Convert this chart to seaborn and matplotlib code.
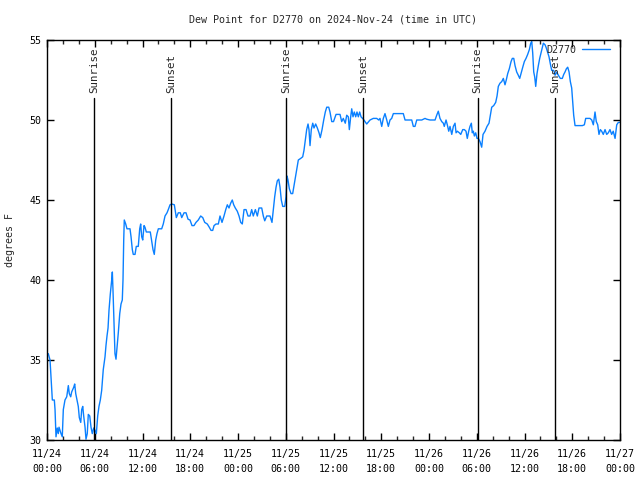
import matplotlib
matplotlib.use("Agg")
import matplotlib.pyplot as plt
from matplotlib.ticker import MultipleLocator
import seaborn as sns
import pandas as pd

# hours since 2024-11-24 00:00 UTC
hours = [0.16, 0.38, 0.50, 0.67, 0.92, 1.01, 1.13, 1.29, 1.42, 1.51, 1.76, 1.92, 2.05, 2.26, 2.48,
         2.68, 2.80, 2.98, 3.10, 3.36, 3.48, 3.61, 3.77, 3.93, 4.06, 4.24, 4.36, 4.49, 4.61, 4.78,
         4.90, 5.06, 5.19, 5.37, 5.53, 5.69, 5.87, 6.03, 6.20, 6.37, 6.53, 6.70, 6.87, 7.07, 7.29,
         7.41, 7.54, 7.67, 7.79, 7.95, 8.13, 8.21, 8.29, 8.38, 8.46, 8.54, 8.67, 8.80, 8.96, 9.14,
         9.30, 9.46, 9.55, 9.64, 9.71, 9.89, 10.05, 10.43, 10.56, 10.72, 10.84, 11.06, 11.22, 11.47,
         11.65, 11.77, 11.90, 12.03, 12.19, 12.31, 12.48, 12.98, 13.16, 13.32, 13.48, 13.66, 13.82,
         13.99, 14.41, 14.61, 14.83, 15.08, 15.24, 15.46, 15.67, 16.00, 16.25, 16.50, 16.75, 16.93,
         17.22, 17.47, 17.72, 17.97, 18.22, 18.47, 18.72, 19.01, 19.31, 19.57, 19.82, 20.14, 20.39,
         20.61, 20.82, 20.99, 21.24, 21.53, 21.74, 21.99, 22.24, 22.46, 22.66, 22.87, 23.08, 23.28,
         23.46, 23.66, 23.91, 24.13, 24.34, 24.54, 24.76, 25.01, 25.26, 25.51, 25.72, 25.92, 26.18,
         26.43, 26.64, 26.98, 27.18, 27.36, 27.61, 28.02, 28.27, 28.44, 28.61, 28.78, 28.94, 29.12,
         29.28, 29.44, 29.62, 29.87, 30.03, 30.16, 30.28, 30.45, 30.66, 30.87, 31.04, 31.20, 31.38,
         31.58, 31.88, 32.13, 32.29, 32.46, 32.63, 32.80, 32.92, 33.05, 33.21, 33.39, 33.55, 33.76,
         33.97, 34.18, 34.34, 34.56, 34.77, 34.97, 35.15, 35.40, 35.56, 35.78, 36.00, 36.32, 36.82,
         37.03, 37.23, 37.48, 37.66, 37.86, 37.99, 38.16, 38.29, 38.45, 38.61, 38.79, 38.95, 39.12,
         39.29, 39.46, 39.75, 40.17, 40.59, 41.00, 41.43, 41.68, 41.84, 42.06, 42.26, 42.47, 42.69,
         42.89, 43.10, 43.31, 43.52, 44.77, 44.99, 45.83, 46.03, 46.24, 46.46, 47.09, 47.50, 47.71,
         48.13, 48.76, 48.97, 49.17, 49.38, 49.60, 49.80, 49.92, 50.14, 50.30, 50.48, 50.64, 50.86,
         51.06, 51.27, 51.40, 51.56, 51.81, 51.99, 52.24, 52.44, 52.65, 52.81, 52.99, 53.15, 53.32,
         53.44, 53.57, 53.70, 53.87, 54.03, 54.20, 54.41, 54.62, 54.79, 55.04, 55.29, 55.54, 55.71,
         55.88, 56.13, 56.38, 56.55, 56.71, 56.92, 57.14, 57.34, 57.55, 57.71, 57.89, 58.09, 58.31,
         58.47, 58.65, 58.81, 59.02, 59.22, 59.40, 59.56, 59.78, 59.98, 60.19, 60.40, 60.61, 60.78,
         60.91, 61.03, 61.16, 61.28, 61.41, 61.57, 61.74, 61.91, 62.08, 62.24, 62.37, 62.58, 62.74,
         62.92, 63.08, 63.25, 63.42, 63.67, 63.84, 64.05, 64.25, 64.50, 64.75, 64.93, 65.09, 65.26,
         65.43, 65.60, 65.76, 65.93, 66.06, 66.18, 66.35, 67.27, 67.52, 67.69, 68.23, 68.45, 68.65,
         68.86, 69.02, 69.20, 69.36, 69.53, 69.70, 69.90, 70.12, 70.33, 70.53, 70.74, 70.95, 71.15,
         71.38, 71.59, 71.79, 72.00]

dew_point = [35.4, 35.0, 34.0, 32.5, 32.5, 31.9, 30.2, 30.75, 30.4, 30.8, 30.4, 30.2, 31.9, 32.5, 32.7,
             33.4, 32.9, 32.7, 33.0, 33.3, 33.5, 32.9, 32.5, 32.1, 31.4, 31.1, 31.9, 32.1, 31.5, 30.8,
             30.05, 30.4, 31.6, 31.5, 30.8, 30.4, 30.75, 30.6, 30.4, 31.5, 32.1, 32.5, 33.1, 34.4, 35.2,
             35.9, 36.5, 37.0, 38.1, 39.1, 40.0, 40.5, 39.4, 37.9, 36.7, 35.4, 35.05, 35.8, 36.7, 37.9,
             38.5, 38.75, 40.0, 42.5, 43.75, 43.5, 43.2, 43.2, 42.7, 41.9, 41.6, 41.6, 42.1, 42.1,
             43.2, 43.5, 42.7, 42.5, 43.4, 43.3, 43.0, 43.0, 42.4, 41.9, 41.6, 42.5, 42.9,
             43.2, 43.2, 43.5, 44.0, 44.2, 44.4, 44.7, 44.75, 44.7, 43.9, 44.2, 44.2, 43.9,
             44.2, 44.2, 43.8, 43.75, 43.4, 43.4, 43.6, 43.75, 44.0, 43.9, 43.6, 43.5, 43.3,
             43.1, 43.1, 43.4, 43.5, 43.5, 44.0, 43.6, 44.0, 44.4, 44.7, 44.5, 44.8, 45.0,
             44.7, 44.5, 44.3, 44.0, 43.6, 43.5, 44.4, 44.4, 44.0, 44.0, 44.4, 44.0, 44.4,
             44.0, 44.5, 44.5, 44.0, 43.7, 44.0, 44.0, 43.6, 44.4, 45.2, 45.8, 46.2, 46.3,
             45.8, 45.0, 44.6, 44.6, 45.2, 46.5, 46.25, 45.7, 45.4, 45.4, 45.9, 46.35, 46.9,
             47.5, 47.6, 47.7, 48.1, 48.75, 49.4, 49.75, 49.4, 48.4, 49.4, 49.8, 49.5, 49.75,
             49.5, 49.2, 48.9, 49.4, 50.0, 50.5, 50.8, 50.8, 50.5, 49.9, 49.9, 50.35, 50.35,
             49.9, 50.1, 49.8, 50.3, 50.2, 49.4, 50.2, 50.7, 50.2, 50.5, 50.2, 50.5, 50.2,
             50.5, 50.2, 50.05, 49.75, 50.0, 50.1, 50.1, 50.0, 50.1, 49.6, 50.1, 50.4, 50.0,
             49.6, 50.0, 50.1, 50.4, 50.4, 50.0, 50.0, 49.6, 49.6, 50.0, 50.0, 50.1, 50.05,
             50.0, 50.0, 50.3, 50.55, 50.1, 49.9, 49.8, 49.6, 50.0, 49.7, 49.3, 49.6, 49.1,
             49.6, 49.8, 49.2, 49.3, 49.2, 49.1, 49.4, 49.4, 49.3, 48.85, 49.3, 49.6, 49.8,
             49.2, 49.3, 49.0, 49.2, 48.85, 48.85, 48.65, 48.3, 49.1, 49.3, 49.6, 49.8, 50.3,
             50.8, 50.9, 51.1, 51.5, 52.1, 52.3, 52.4, 52.6, 52.2, 52.5, 52.9, 53.2, 53.65,
             53.85, 53.85, 53.4, 53.0, 52.8, 52.6, 52.9, 53.3, 53.65, 53.85, 54.1, 54.4, 54.8,
             54.9, 54.2, 53.0, 52.7, 52.1, 52.9, 53.4, 53.85, 54.2, 54.5, 54.8, 54.7, 54.5,
             54.2, 53.95, 53.5, 53.1, 53.1, 52.8, 53.0, 52.8, 52.6, 52.6, 52.85, 53.0, 53.2,
             53.3, 53.0, 52.4, 52.0, 51.1, 50.3, 49.65, 49.65, 49.7, 50.1, 50.1, 50.0, 49.7,
             50.5, 49.9, 49.7, 49.1, 49.4, 49.3, 49.1, 49.4, 49.1, 49.2, 49.4, 49.1, 49.3,
             48.85, 49.7, 49.85, 49.85]

event_hours = [5.95, 15.62, 30.07, 39.75, 54.12, 63.84]
event_labels = ["Sunrise", "Sunset", "Sunrise", "Sunset", "Sunrise", "Sunset"]

tick_hours = [0, 6, 12, 18, 24, 30, 36, 42, 48, 54, 60, 66, 72]
tick_labels = ["11/24\n00:00", "11/24\n06:00", "11/24\n12:00", "11/24\n18:00",
               "11/25\n00:00", "11/25\n06:00", "11/25\n12:00", "11/25\n18:00",
               "11/26\n00:00", "11/26\n06:00", "11/26\n12:00", "11/26\n18:00",
               "11/27\n00:00"]
y_ticks = [30, 35, 40, 45, 50, 55]

series_name = "D2770"
title = "Dew Point for D2770 on 2024-Nov-24 (time in UTC)"
y_label = "degrees F"

sns.set_style("white")
plt.rcParams["font.family"] = ["DejaVu Sans Mono"]
fs = 7.2
fs_ev = 7.8

fig = plt.figure(figsize=(6.4, 4.8), dpi=100)
ax = fig.add_axes([47 / 640, 40 / 480, 573 / 640, 400 / 480])

df = pd.DataFrame({"hours": hours, "dew": dew_point})
sns.lineplot(data=df, x="hours", y="dew", ax=ax, color="#0a80ff", linewidth=1.0,
             label=series_name, sort=False, estimator=None)

for h, lab in zip(event_hours, event_labels):
    ax.axvline(h, ymin=0, ymax=0.855, color="black", linewidth=1.0)
    ax.text(h, 0.8675, lab, rotation=90, ha="center", va="bottom", fontsize=fs_ev,
            transform=ax.get_xaxis_transform())

ax.set_xlim(0, 72)
ax.set_ylim(30, 55)
ax.set_xticks(tick_hours)
ax.set_xticklabels(tick_labels, fontsize=fs, linespacing=1.65)
ax.xaxis.set_minor_locator(MultipleLocator(2))
ax.set_yticks(y_ticks)
ax.set_yticklabels([str(v) for v in y_ticks], fontsize=fs)
ax.set_xlabel("")
ax.set_ylabel("")

ax.tick_params(axis="x", which="major", direction="in", length=5, width=1,
               top=True, bottom=True, pad=6.5, colors="black")
ax.tick_params(axis="x", which="minor", direction="in", length=3, width=1,
               top=True, bottom=True)
ax.tick_params(axis="y", which="major", direction="in", length=5, width=1,
               left=True, right=True, pad=4, colors="black")
for s in ax.spines.values():
    s.set_color("black")
    s.set_linewidth(1.0)

leg = ax.legend(loc="upper right", bbox_to_anchor=(0.9825, 0.9875), frameon=False,
                markerfirst=False, handlelength=2.8, handletextpad=0.6,
                borderpad=0, borderaxespad=0, fontsize=fs)

fig.text(333 / 640, 1 - 19 / 480, title, ha="center", va="center", fontsize=fs)
fig.text(10 / 640, 0.5, y_label, rotation=90, ha="center", va="center", fontsize=fs)

fig.savefig("out.png", dpi=100)
